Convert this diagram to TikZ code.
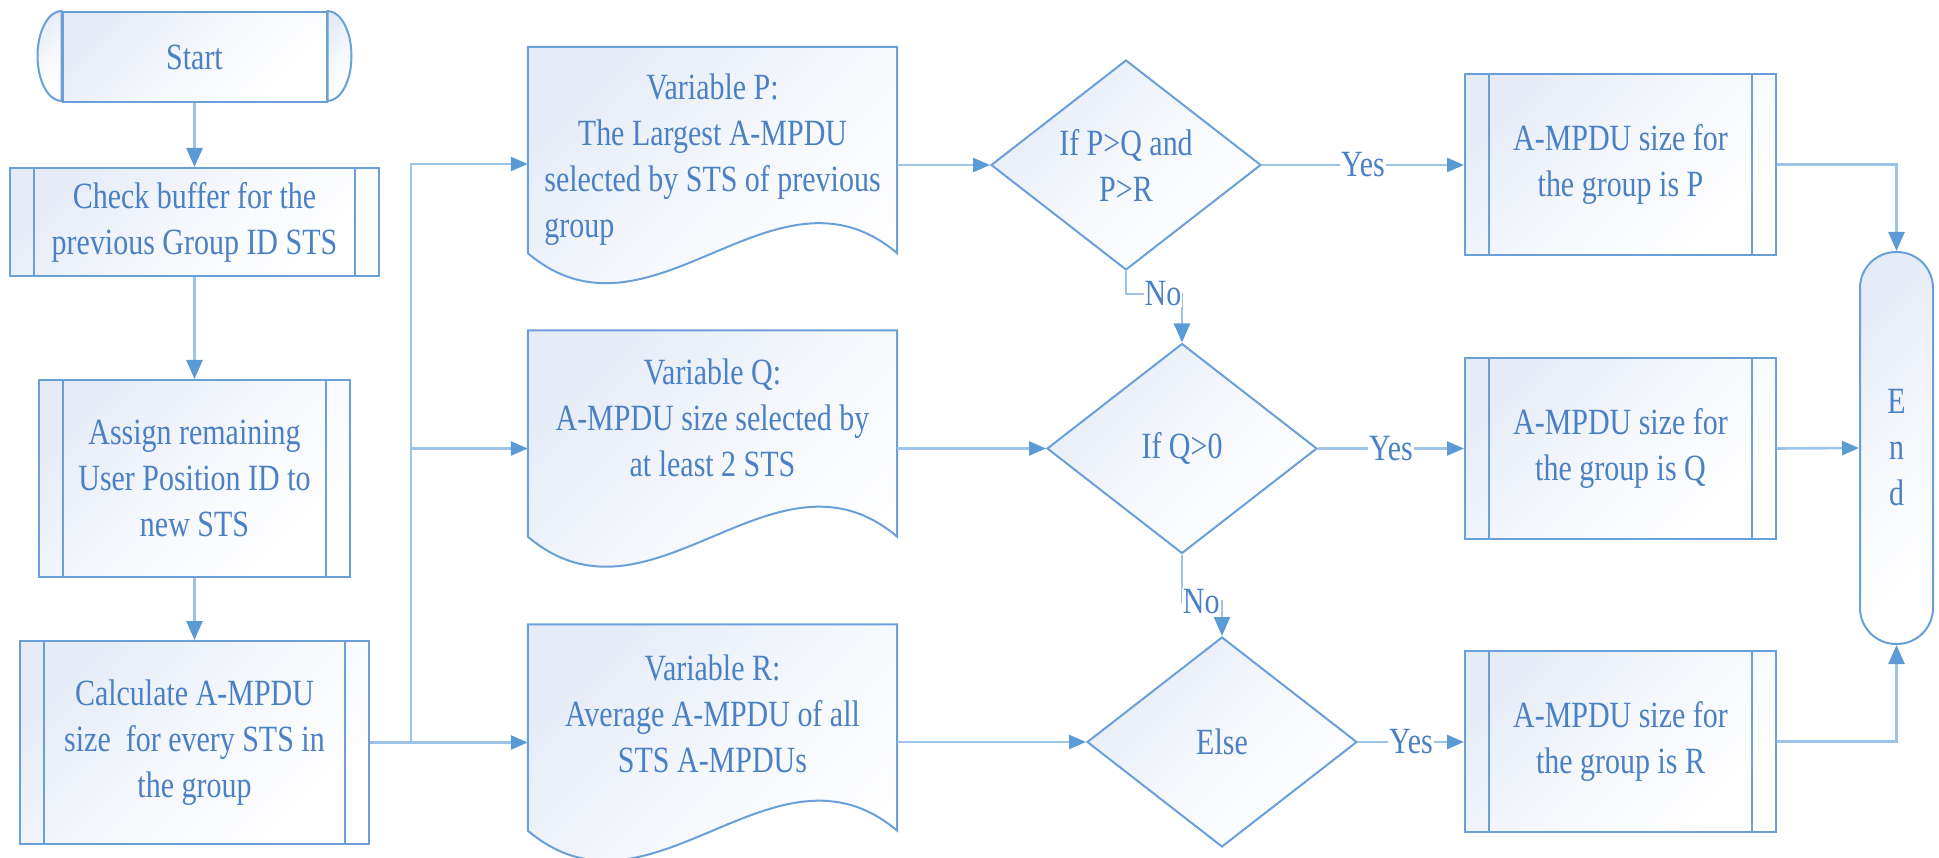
\documentclass[tikz,border=0pt]{standalone}
\usepackage{fontspec}
\setmainfont{Liberation Serif}[FakeStretch=0.81]
\usetikzlibrary{shapes.geometric,arrows.meta,calc}
\definecolor{lineblue}{HTML}{6A9FD8}
\definecolor{connblue}{HTML}{9DC3E6}
\definecolor{tipblue}{HTML}{5B9BD5}
\definecolor{textblue}{HTML}{4A80C4}
\definecolor{shadeblue}{HTML}{E6ECF7}
\begin{document}
\begin{tikzpicture}[x=1pt,y=-1pt,
  every node/.style={font=\fontsize{37}{46}\selectfont, text=textblue},
  shp/.style={draw=lineblue, line width=2pt, top color=shadeblue, bottom color=white, middle color=white!60!shadeblue, shading angle=45, inner sep=0pt, align=center},
  proc/.style={shp, rectangle, path picture={
      \draw[lineblue, line width=2pt]
        ([xshift=24pt]path picture bounding box.north west) -- ([xshift=24pt]path picture bounding box.south west)
        ([xshift=-24pt]path picture bounding box.north east) -- ([xshift=-24pt]path picture bounding box.south east);}},
  dec/.style={shp, diamond, minimum width=270pt, minimum height=210pt},
  docbox/.style={rectangle, inner sep=0pt, minimum width=369pt, minimum height=206pt},
  txt/.style={align=center, inner sep=0pt},
  conn/.style={draw=connblue, line width=2.6pt},
  arrh/.style={conn, -{Triangle[length=17pt,width=14pt,color=tipblue]}},
  arrv/.style={conn, -{Triangle[length=19pt,width=16pt,color=tipblue]}},
  lbl/.style={fill=white, inner sep=1pt}
]
\useasboundingbox (0,0) rectangle (1939,858);

% left column
\node[shp, minimum width=264pt, minimum height=90pt] (start) at (194.5,57) {Start};
\shadedraw[shp] (start.north west) arc[start angle=90,end angle=270,x radius=24pt,y radius=45pt] -- cycle;
\shadedraw[shp] (start.north east) arc[start angle=90,end angle=-90,x radius=24pt,y radius=45pt] -- cycle;

\node[proc, minimum width=369pt, minimum height=108pt] (check) at (194.5,222) {Check buffer for the\\previous Group ID STS};
\node[proc, minimum width=311pt, minimum height=197pt] (assign) at (194.5,478.5) {Assign remaining\\User Position ID to\\new STS};
\node[proc, minimum width=349pt, minimum height=203pt] (calc) at (194.5,742.5) {Calculate A-MPDU\\size~ for every STS in\\the group};

% documents
\node[docbox] (pdoc) at (712.5,150) {};
\node[docbox] (qdoc) at (712.5,433.5) {};
\node[docbox] (rdoc) at (712.5,727.5) {};
\foreach \d in {pdoc,qdoc,rdoc}{
  \shadedraw[shp] (\d.south west) -- (\d.north west) -- (\d.north east) -- (\d.south east)
    .. controls ($(\d.south east)+(-123,-104)$) and ($(\d.south west)+(123,104)$) .. (\d.south west) -- cycle;
}
\node[txt] (ptext) at (712.5,160) {Variable P:\\The Largest A-MPDU\\selected by STS of previous\\\rlap{group}\phantom{selected by STS of previous}};
\node[txt] (qtext) at (712.5,418) {Variable Q:\\A-MPDU size selected by\\at least 2 STS};
\node[txt] (rtext) at (712.5,714) {Variable R:\\Average A-MPDU of all\\STS A-MPDUs};

% decisions
\node[dec] (d1) at (1126,165) {If P>Q and\\P>R};
\node[dec] (d2) at (1182,448.5) {If Q>0};
\node[dec] (d3) at (1222,742) {Else};

% results
\node[proc, minimum width=311pt, minimum height=181pt] (bp) at (1620.5,164.5) {A-MPDU size for\\the group is P};
\node[proc, minimum width=311pt, minimum height=181pt] (bq) at (1620.5,448.5) {A-MPDU size for\\the group is Q};
\node[proc, minimum width=311pt, minimum height=181pt] (brr) at (1620.5,741.5) {A-MPDU size for\\the group is R};

% end
\node[shp, rounded corners=36pt, minimum width=73pt, minimum height=392pt] (endn) at (1896.5,448) {E\\n\\d};

% connectors
\draw[arrv] (start) -- (check);
\draw[arrv] (check) -- (assign);
\draw[arrv] (assign) -- (calc);
\coordinate (jT) at (411,164);
\coordinate (jM) at (411,448.5);
\coordinate (jB) at (411,742.5);
\draw[arrh] (calc.east) -- (jB) -- (jT) -- (jT -| pdoc.west);
\draw[arrh] (jM) -- (jM -| qdoc.west);
\draw[arrh] (jB) -- (jB -| rdoc.west);

\draw[arrh] (d1.west -| pdoc.east) -- (d1.west);
\draw[arrh] (d2.west -| qdoc.east) -- (d2.west);
\draw[arrh] (d3.west -| rdoc.east) -- (d3.west);

\draw[arrh] (d1.east) -- node[lbl]{Yes} (d1.east -| bp.west);
\draw[arrh] (d2.east) -- node[lbl]{Yes} (d2.east -| bq.west);
\draw[arrh] (d3.east) -- node[lbl]{Yes} (d3.east -| brr.west);

\draw[arrv] (d1.south) -- ++(0,23) -| node[lbl,pos=0.33]{No} (d2.north);
\draw[arrv] (d2.south) -- ++(0,47) -| node[lbl,pos=0.24]{No} (d3.north);

\draw[arrv] (bp.east) -| (endn.north);
\draw[arrh] (bq.east) -- (endn.west);
\draw[arrv] (brr.east) -| (endn.south);
\end{tikzpicture}
\end{document}
